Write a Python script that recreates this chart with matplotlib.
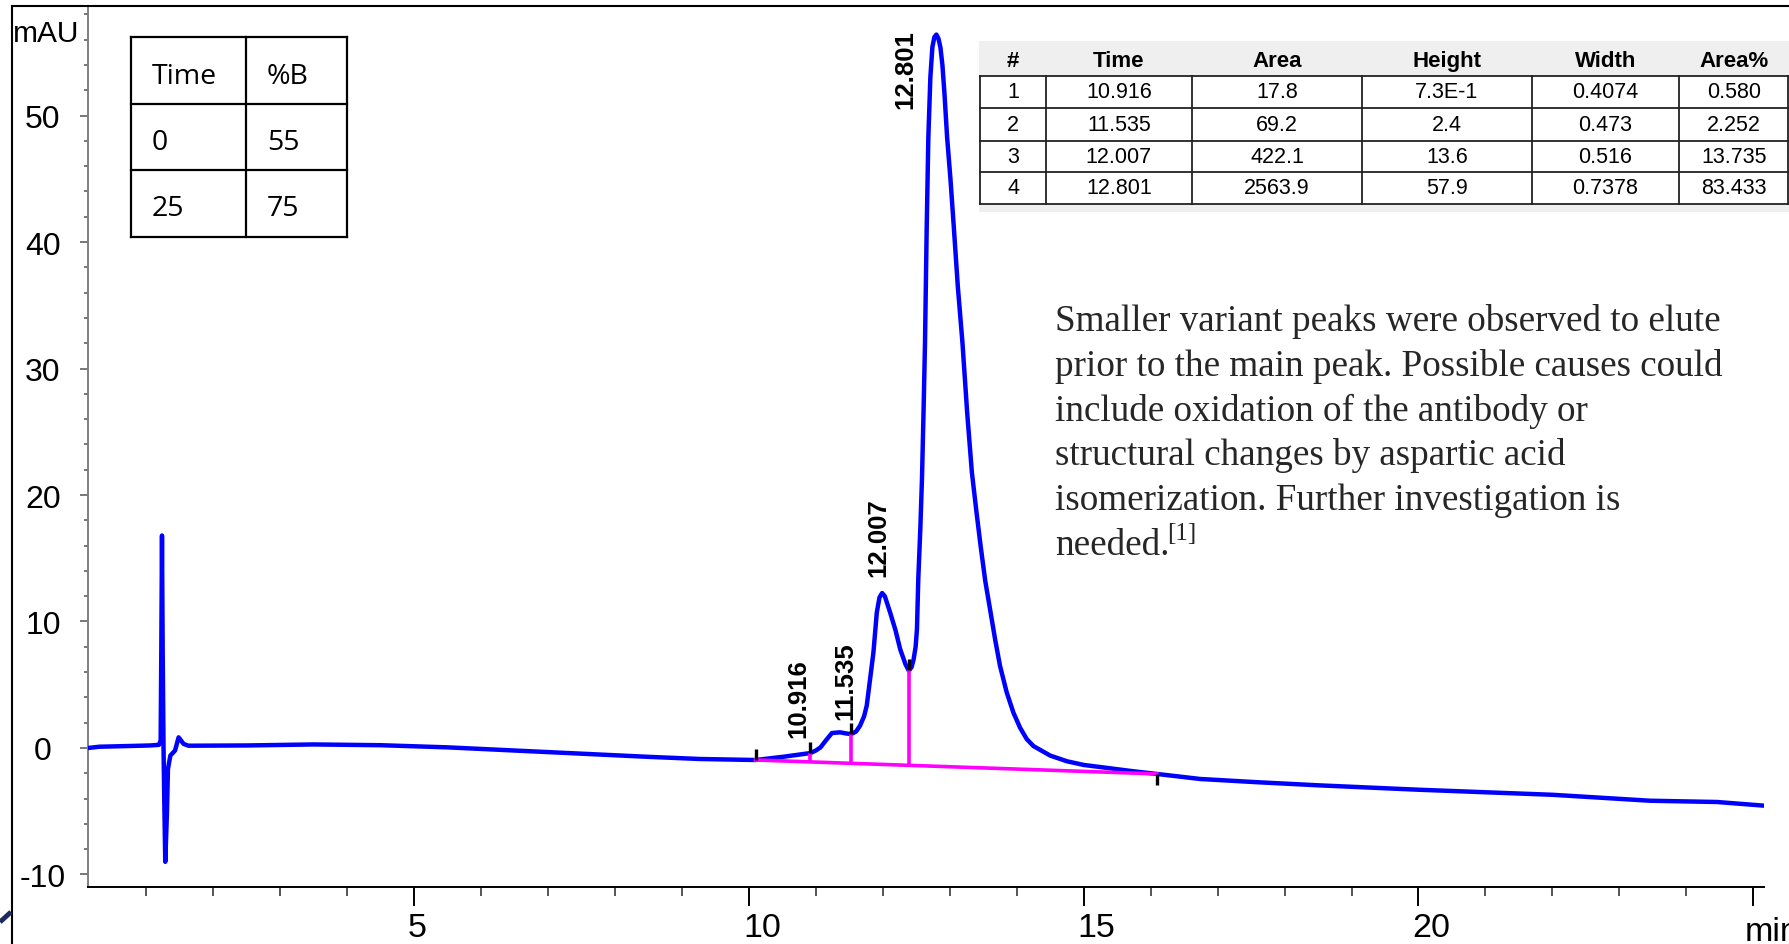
# %% Imports
import numpy as np
import matplotlib
matplotlib.use("Agg")
import matplotlib.pyplot as plt
from matplotlib.patches import Rectangle
from matplotlib.ticker import MultipleLocator
from matplotlib.transforms import ScaledTranslation

plt.rcParams["font.family"] = ["Liberation Sans", "DejaVu Sans"]

# %% Data (retention time in min, signal in mAU)
TRACE_T = [0.13, 0.30, 0.70, 1.06, 1.19, 1.215, 1.225, 1.235, 1.245, 1.258,
           1.27, 1.284, 1.297, 1.309, 1.324, 1.36, 1.43, 1.483, 1.558, 1.63,
           2.5, 3.5, 4.5, 5.5, 6.5, 7.5, 8.5, 9.27, 10.10, 10.52,
           10.92, 11.00, 11.07, 11.15, 11.24, 11.36, 11.45, 11.53, 11.60, 11.66,
           11.72, 11.76, 11.81, 11.86, 11.91, 11.95, 11.99, 12.03, 12.11, 12.19,
           12.26, 12.34, 12.39, 12.43, 12.46, 12.49, 12.51, 12.53, 12.56, 12.585,
           12.61, 12.63, 12.655, 12.68, 12.71, 12.74, 12.77, 12.80, 12.83, 12.86,
           12.89, 12.92, 12.96, 13.01, 13.06, 13.12, 13.19, 13.26, 13.33, 13.40,
           13.46, 13.53, 13.61, 13.68, 13.75, 13.85, 13.95, 14.05, 14.15, 14.25,
           14.50, 14.75, 15.00, 15.74, 16.09, 16.74, 17.57, 18.5, 20.0, 22.0,
           23.46, 24.46, 25.16]
TRACE_MAU = [0.0, 0.1, 0.15, 0.2, 0.25, 0.6, 8.0, 16.8, 8.0, 0.0,
             -4.5, -9.0, -7.0, -5.1, -1.66, -0.6, -0.2, 0.84, 0.32, 0.18,
             0.2, 0.28, 0.22, 0.05, -0.2, -0.45, -0.7, -0.87, -0.95, -0.69,
             -0.40, -0.2, 0.05, 0.6, 1.18, 1.24, 1.15, 1.1, 1.3, 1.76,
             2.5, 3.35, 5.45, 7.56, 10.7, 11.9, 12.25, 12.0, 10.7, 9.3,
             7.8, 6.6, 6.1, 6.4, 7.0, 8.0, 9.4, 13.4, 17.3, 21.3,
             27.0, 32.0, 41.0, 48.3, 53.0, 55.4, 56.2, 56.4, 56.1, 55.4,
             54.0, 51.8, 48.3, 45.0, 41.2, 36.5, 32.0, 26.5, 21.8, 18.6,
             16.0, 13.2, 10.7, 8.5, 6.5, 4.4, 2.8, 1.6, 0.7, 0.15,
             -0.6, -1.05, -1.34, -1.84, -2.05, -2.45, -2.7, -2.95, -3.3, -3.7,
             -4.17, -4.27, -4.56]

# integration: baseline, drop lines, boundary marks
BASELINE_T = [10.10, 16.09]
BASELINE_MAU = [-0.95, -2.05]
DROP_T = [10.92, 11.53, 12.385]
MARK_UP_T = [10.10, 10.92, 11.53, 12.385]
MARK_DOWN_T = [16.09]

PEAK_RT = [10.916, 11.535, 12.007, 12.801]
PEAK_LABELS = ["10.916", "11.535", "12.007", "12.801"]

X_TICKS = [5, 10, 15, 20, 25]
X_TICK_LABELS = ["5", "10", "15", "20", ""]
Y_TICKS = [-10, 0, 10, 20, 30, 40, 50]
Y_TICK_LABELS = ["-10", "0", "10", "20", "30", "40", "50"]

# gradient table
GRAD_HEAD = ["Time", "%B"]
GRAD_TIME = ["0", "25"]
GRAD_B = ["55", "75"]

# peak table
PK_HEAD = ["#", "Time", "Area", "Height", "Width", "Area%"]
PK_NUM = ["1", "2", "3", "4"]
PK_TIME = ["10.916", "11.535", "12.007", "12.801"]
PK_AREA = ["17.8", "69.2", "422.1", "2563.9"]
PK_HEIGHT = ["7.3E-1", "2.4", "13.6", "57.9"]
PK_WIDTH = ["0.4074", "0.473", "0.516", "0.7378"]
PK_PCT = ["0.580", "2.252", "13.735", "83.433"]

NOTE_LINES = [
    "Smaller variant peaks were observed to elute",
    "prior to the main peak. Possible causes could",
    "include oxidation of the antibody or",
    "structural changes by aspartic acid",
    "isomerization. Further investigation is",
    "needed.",
]
NOTE_REF = "[1]"

# %% Layout (figure pixels, origin top-left)
W, H = 1790, 945
PT = 0.72  # points per pixel at dpi 100
AX_L, AX_R, AX_T, AX_B = 88, 1764, 7, 888
BLUE, MAGENTA = "#0000ff", "#ff00ff"
# peak label offsets from the curve at the retention time (px)
LABEL_DX = [-12, -6, -5, -31]
LABEL_DY = [16, 15, 18, -73]

fig = plt.figure(figsize=(W / 100, H / 100), dpi=100)
ax = fig.add_axes([AX_L / W, (H - AX_B) / H, (AX_R - AX_L) / W, (AX_B - AX_T) / H])

# %% Chromatogram
ax.plot(TRACE_T, TRACE_MAU, color=BLUE, lw=3.2, solid_joinstyle="round", zorder=3)
ax.plot(BASELINE_T, BASELINE_MAU, color=MAGENTA, lw=2.6, zorder=4)
drop_base = np.interp(DROP_T, BASELINE_T, BASELINE_MAU)
drop_top = np.interp(DROP_T, TRACE_T, TRACE_MAU)
ax.vlines(DROP_T, drop_base, drop_top, color=MAGENTA, lw=2.6, zorder=4)
up = np.interp(MARK_UP_T, TRACE_T, TRACE_MAU)
ax.vlines(MARK_UP_T, up, up + 0.85, color="black", lw=2.4, zorder=5)
down = np.interp(MARK_DOWN_T, TRACE_T, TRACE_MAU)
ax.vlines(MARK_DOWN_T, down - 0.9, down, color="black", lw=2.4, zorder=5)

label_y = np.interp(PEAK_RT, TRACE_T, TRACE_MAU)
for rt, yv, lbl, dx, dy in zip(PEAK_RT, label_y, PEAK_LABELS, LABEL_DX, LABEL_DY):
    ax.annotate(lbl, xy=(rt, yv), xytext=(dx * PT, dy * PT), textcoords="offset points",
                rotation=90, ha="center", va="bottom", fontsize=18.5, fontweight="bold")

ax.set_xlim(0.13, 25.16)
ax.set_ylim(-10.99, 58.66)
for side in ("top", "right"):
    ax.spines[side].set_visible(False)
ax.spines["left"].set_color("#808080")
ax.spines["left"].set_linewidth(1.4)
ax.spines["bottom"].set_color("black")
ax.spines["bottom"].set_linewidth(1.4)

ax.set_xticks(X_TICKS, X_TICK_LABELS, ha="left")
ax.xaxis.set_minor_locator(MultipleLocator(1))
ax.set_yticks(Y_TICKS, Y_TICK_LABELS, ha="center")
ax.yaxis.set_minor_locator(MultipleLocator(2))
ax.tick_params(axis="x", which="major", direction="out", length=19 * PT, width=1.4,
               color="black", pad=4.5, labelsize=24.5)
ax.tick_params(axis="x", which="minor", direction="out", length=9 * PT, width=1.4,
               color="#555555")
ax.tick_params(axis="y", which="major", direction="out", length=8 * PT, width=1.4,
               color="#777777", pad=37 * PT, labelsize=23)
ax.tick_params(axis="y", which="minor", direction="out", length=4 * PT, width=1.4,
               color="#777777")
shift = ScaledTranslation(-6 / 100, 0, fig.dpi_scale_trans)
for lbl in ax.get_xticklabels():
    lbl.set_transform(lbl.get_transform() + shift)

# %% Overlay in pixel coordinates: frame, units, tables, note
ov = fig.add_axes([0, 0, 1, 1], zorder=5)
ov.set_xlim(0, W)
ov.set_ylim(H, 0)
ov.axis("off")

ov.plot([12, 12], [7, H], color="black", lw=1.5)
ov.plot([12, W], [7, 7], color="black", lw=1.5)
ov.plot([0, 11], [923, 913], color="#1c2b5e", lw=3.5, solid_capstyle="butt")

ov.text(13, 42, "mAU", fontsize=21.5, va="baseline", ha="left")
ov.text(1745, 941, "min", fontsize=24.5, va="baseline", ha="left")

# gradient table
GX = [131, 246, 347]
GY = [38, 104.5, 171, 237.5]
for x in GX:
    ov.plot([x, x], [GY[0], GY[-1]], color="black", lw=1.6)
for y in GY:
    ov.plot([GX[0], GX[-1]], [y, y], color="black", lw=1.6, solid_capstyle="projecting")
grad_rows = [GRAD_HEAD] + [list(r) for r in zip(GRAD_TIME, GRAD_B)]
for i, row in enumerate(grad_rows):
    for j, cell in enumerate(row):
        ov.text(GX[j] + 21, GY[i] + 45.5, cell, fontsize=20.5, family="Open Sans",
                va="baseline", ha="left")

# peak table
ov.add_patch(Rectangle((979, 42), W - 979, 171, facecolor="#efefef", edgecolor="none"))
PX = [980.5, 1045.8, 1192, 1362, 1532, 1679, 1788.5]
PY = [76.7, 109, 141.7, 173, 205]
ov.add_patch(Rectangle((PX[0], PY[0]), PX[-1] - PX[0], PY[-1] - PY[0],
                       facecolor="white", edgecolor="none"))
for x in PX:
    ov.plot([x, x], [PY[0], PY[-1]], color="#222222", lw=1.3)
for y in PY:
    ov.plot([PX[0], PX[-1]], [y, y], color="#222222", lw=1.3)
for j, head in enumerate(PK_HEAD):
    ov.text((PX[j] + PX[j + 1]) / 2, 61.7, head, fontsize=16, fontweight="bold",
            ha="center", va="center")
pk_rows = list(zip(PK_NUM, PK_TIME, PK_AREA, PK_HEIGHT, PK_WIDTH, PK_PCT))
for i, row in enumerate(pk_rows):
    for j, cell in enumerate(row):
        ov.text((PX[j] + PX[j + 1]) / 2, (PY[i] + PY[i + 1]) / 2, cell, fontsize=15.5,
                ha="center", va="center")

# note
last = None
for i, line in enumerate(NOTE_LINES):
    last = ov.text(1055, 331 + 44.8 * i, line, fontsize=26.7, family="Liberation Serif",
                   color="#262626", va="baseline", ha="left")
ov.annotate(NOTE_REF, xy=(1, 1), xycoords=last, xytext=(-1.5, 4), textcoords="offset points",
            fontsize=18, family="Liberation Serif", color="#262626", ha="left", va="top")

fig.savefig("out.png", dpi=100)
